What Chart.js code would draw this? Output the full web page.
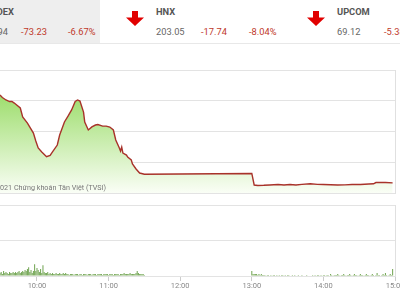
<!DOCTYPE html>
<html>
<head>
<meta charset="utf-8">
<script src="https://cdn.jsdelivr.net/npm/chart.js@4.4.0/dist/chart.umd.min.js"></script>
<style>
html, body { margin: 0; padding: 0; background: #fff; }
#page { position: relative; width: 400px; height: 300px; overflow: hidden; font-family: Roboto, "Noto Sans", sans-serif; }
.box { position: absolute; left: 0; top: 0; width: 100px; height: 43px; background: #eeeeee; }
.sep { position: absolute; left: 0; top: 43px; width: 400px; height: 1px; background: #e8e8e8; }
.t { position: absolute; white-space: nowrap; font-size: 9.3px; line-height: 12px; color: #666; }
.name { font-weight: bold; color: #555; }
.red { color: #c0392b; }
.arrow { position: absolute; }
#priceWrap { position: absolute; left: 0; top: 60px; width: 400px; height: 140px; }
#volWrap { position: absolute; left: 0; top: 195px; width: 400px; height: 105px; }
</style>
</head>
<body>
<div id="page">
    <div class="box"></div>
    <div class="sep"></div>

    <div class="t name" style="right:386px;top:6px">VNINDEX</div>
    <div class="t" style="right:392px;top:25.5px">1,023.94</div>
    <div class="t red" style="left:21px;top:25.5px">-73.23</div>
    <div class="t red" style="left:68px;top:25.5px">-6.67%</div>

    <svg class="arrow" style="left:125px;top:11px" width="20" height="15" viewBox="0 0 20 15"><path d="M7 0h6v6.5h6l-9 8.5-9-8.5h6z" fill="#e10000"/></svg>
    <div class="t name" style="left:156px;top:6px">HNX</div>
    <div class="t" style="left:156px;top:25.5px">203.05</div>
    <div class="t red" style="left:201px;top:25.5px">-17.74</div>
    <div class="t red" style="left:249px;top:25.5px">-8.04%</div>

    <svg class="arrow" style="left:306px;top:11px" width="20" height="15" viewBox="0 0 20 15"><path d="M7 0h6v6.5h6l-9 8.5-9-8.5h6z" fill="#e10000"/></svg>
    <div class="t name" style="left:337px;top:6px">UPCOM</div>
    <div class="t" style="left:337px;top:25.5px">69.12</div>
    <div class="t red" style="left:384px;top:25.5px">-5.38</div>
    <div class="t red" style="left:431px;top:25.5px">-7.22%</div>

    <div id="priceWrap"><canvas id="price"></canvas></div>
    <div id="volWrap"><canvas id="vol"></canvas></div>
</div>

<script>
// index line (VNINDEX)
const priceTimes = ['09:29','09:31','09:34','09:37','09:39','09:41','09:43','09:46','09:48','09:52','09:54','09:57','09:59',
    '10:01','10:04','10:08','10:11','10:13','10:17','10:19','10:23','10:26','10:29','10:32','10:34','10:36','10:39','10:40',
    '10:43','10:46','10:49','10:51','10:55','10:58','11:01','11:04','11:06','11:09','11:10','11:11','11:12','11:15','11:16',
    '11:19','11:20','11:23','11:26','11:30',
    '13:00','13:02','13:05','13:10','13:15','13:22','13:27','13:32','13:37','13:42','13:49','13:55','14:00','14:06','14:12',
    '14:18','14:24','14:31','14:38','14:42','14:44','14:52','14:58'];
const priceValues = [1083.7,1082.1,1080.5,1079.5,1079.5,1078.5,1077.2,1075.3,1069.4,1065.5,1062.9,1059.0,1053.8,
    1049.3,1046.7,1043.6,1044.5,1046.7,1051.2,1057.7,1066.2,1070.0,1074.0,1079.5,1080.5,1079.8,1072.6,1066.2,
    1061.0,1063.0,1064.2,1064.5,1063.5,1063.5,1062.9,1061.0,1054.5,1049.3,1047.3,1049.9,1046.0,1044.7,1043.4,
    1041.5,1038.9,1035.6,1033.0,1032.2,
    1032.7,1025.2,1024.9,1025.0,1025.2,1025.5,1025.2,1025.5,1025.2,1025.6,1026.0,1025.6,1025.5,1025.4,1025.2,
    1025.3,1025.5,1025.5,1025.9,1026.0,1026.8,1026.8,1026.6];
const priceTicks = [1020, 1040, 1060, 1080, 1100];

// volume, one bar per minute
const volMorningStart = '09:29';
const volMorning = [3,4,2,5,3,4, 3,2,4,3,3,4, 3,4,3,4,5,3, 4,5,4,6,5,7, 9,4,6,3,5,12, 5,8,6,4,7,3,
    11,4,3,3,4,2, 3,2,3,2,2,3, 2,2,3,2,2,3, 2,3,2,2,1,2, 2,2,1,2,2,2, 1,2,2,1,2,2, 2,1,2,2,2,1,
    2,2,2,1,2,2, 2,2,1,2,2,2, 2,1,2,2,2,1, 2,2,2,2,1,2, 2,2,3,2,2,2, 2,3,2,2,2,2, 3,5,3,2,2,2, 2,1];
const volAfternoonStart = '13:00';
const volAfternoon = [5, 2,2,2,2,1,2,1,2,1,1,
    1,0,1,1,0,1,0,1,1,0, 1,0,1,0,1,1,0,1,0,1, 1,0,0,1,0,1,0,0,1,0,
    0,1,0,0,0,1,0,0,0,0, 1,0,1,0,1,1,0,1,0,1, 1,0,1,1,0,2,1,0,1,1,
    1,2,1,0,1,1,2,1,0,1, 1,2,1,0,1,2,1,1,0,1, 2,1,1,0,1,2,1,1,0,1,
    2,1,0,1,3,1,1,0,1,2, 1,3,1,0,1,2,1,7];
const volTicks = [0, 36, 72];

const timeLabels = ['10:00', '11:00', '12:00', '13:00', '14:00', '15:00'];
const startTime = '09:29';
const endTime = '15:00';

function toMin(s) {
    const p = s.split(':');
    return (+p[0]) * 60 + (+p[1]);
}

function minuteSeries(start, values) {
    const s = toMin(start);
    return values.map((v, i) => ({x: s + i, y: v}));
}

const copyright = {
    id: 'copyright',
    afterDatasetsDraw(chart) {
        const c = chart.ctx, a = chart.chartArea;
        c.save();
        c.font = '7.2px Roboto';
        c.fillStyle = '#777';
        c.textBaseline = 'middle';
        const lead = c.measureText('© 2').width;
        c.fillText('© 2021 Chứng khoán Tân Việt (TVSI)', a.left - lead, a.bottom - 5);
        c.restore();
    }
};

const rightBorder = {
    position: 'right',
    ticks: {display: false},
    grid: {display: false, drawTicks: false},
    border: {color: '#e0e0e0'},
    afterFit: s => { s.width = 0; }
};

new Chart(document.getElementById('price'), {
    type: 'line',
    data: {
        datasets: [{
            data: priceTimes.map((t, i) => ({x: toMin(t), y: priceValues[i]})),
            borderColor: '#a8322a',
            borderWidth: 1.4,
            pointRadius: 0,
            tension: 0,
            fill: 'start',
            backgroundColor: ctx => {
                const a = ctx.chart.chartArea;
                if (!a) return 'rgba(140,210,80,0.5)';
                const g = ctx.chart.ctx.createLinearGradient(0, a.top, 0, a.bottom);
                g.addColorStop(0, '#86d54a');
                g.addColorStop(1, '#fafef6');
                return g;
            }
        }]
    },
    options: {
        animation: false,
        maintainAspectRatio: false,
        layout: {padding: {top: 10, bottom: 7, left: 0, right: 5}},
        plugins: {legend: {display: false}, tooltip: {enabled: false}},
        scales: {
            x: {type: 'linear', display: false, min: toMin(startTime), max: toMin(endTime)},
            y: {
                min: priceTicks[0], max: priceTicks[priceTicks.length - 1],
                afterBuildTicks: s => { s.ticks = priceTicks.map(v => ({value: v})); },
                ticks: {display: false},
                grid: {color: '#e3e3e3', drawTicks: false},
                border: {display: false},
                afterFit: s => { s.width = 0; }
            },
            y2: rightBorder
        }
    },
    plugins: [copyright]
});

new Chart(document.getElementById('vol'), {
    type: 'bar',
    data: {
        datasets: [{
            data: minuteSeries(volMorningStart, volMorning).concat(minuteSeries(volAfternoonStart, volAfternoon)),
            backgroundColor: '#78a95a',
            barPercentage: 0.9,
            categoryPercentage: 1
        }]
    },
    options: {
        animation: false,
        maintainAspectRatio: false,
        layout: {padding: {top: 10, bottom: 8, left: 0, right: 5}},
        plugins: {legend: {display: false}, tooltip: {enabled: false}},
        scales: {
            x: {
                type: 'linear', offset: false,
                min: toMin(startTime), max: toMin(endTime),
                afterBuildTicks: s => { s.ticks = timeLabels.map(t => ({value: toMin(t)})); },
                ticks: {
                    callback: (v, i) => timeLabels[i],
                    color: '#888', font: {size: 7.5, family: 'Roboto'},
                    padding: 1, maxRotation: 0, autoSkip: false
                },
                grid: {drawOnChartArea: false, tickLength: 5, color: '#cccccc', offset: false},
                border: {display: false},
                afterFit: s => { s.paddingLeft = 0; s.paddingRight = 0; }
            },
            y: {
                min: volTicks[0], max: volTicks[volTicks.length - 1],
                afterBuildTicks: s => { s.ticks = volTicks.map(v => ({value: v})); },
                ticks: {display: false},
                grid: {color: '#e3e3e3', drawTicks: false},
                border: {display: false},
                afterFit: s => { s.width = 0; }
            },
            y2: rightBorder
        }
    }
});
</script>
</body>
</html>
